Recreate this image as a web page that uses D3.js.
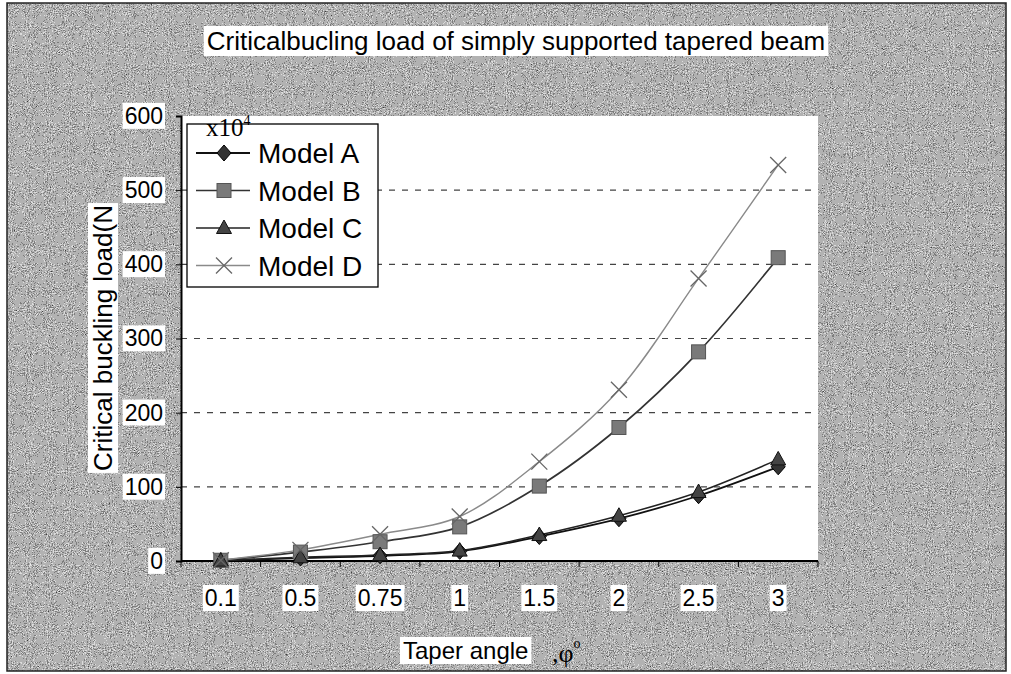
<!DOCTYPE html>
<html>
<head>
<meta charset="utf-8">
<script src="https://cdn.jsdelivr.net/npm/d3@7"></script>
<style>
  body { margin: 0; background: #fff; }
  svg { display: block; }
</style>
</head>
<body>
<div id="chart"></div>
<script>
// taper angle categories and critical buckling load (x10^4 N)
const angles = ["0.1", "0.5", "0.75", "1", "1.5", "2", "2.5", "3"];
const modelA = [0.5, 4, 7, 13, 33, 57, 88, 127];
const modelB = [1, 12, 26, 46, 101, 180, 282, 409];
const modelC = [0.5, 5, 8, 14, 35, 61, 93, 137];
const modelD = [1, 15, 36, 60, 134, 231, 381, 534];
const yTicks = [0, 100, 200, 300, 400, 500, 600];

const W = 1011, H = 674;
const margin = { top: 116, right: 193, bottom: 113, left: 181 };
const width = W - margin.left - margin.right,
    height = H - margin.top - margin.bottom;

const sans = "Arial, 'Liberation Sans', sans-serif";
const serif = "'Liberation Serif', 'Times New Roman', serif";

const svg = d3.select("#chart").append("svg")
    .attr("width", W)
    .attr("height", H);

// noisy scanned-paper background
const defs = svg.append("defs");
const f = defs.append("filter").attr("id", "grain")
    .attr("x", 0).attr("y", 0).attr("width", "100%").attr("height", "100%");
f.append("feTurbulence").attr("type", "fractalNoise")
    .attr("baseFrequency", "0.95").attr("numOctaves", 2).attr("seed", 3);
f.append("feColorMatrix").attr("type", "matrix")
    .attr("values", "0.33 0.33 0.33 0 0  0.33 0.33 0.33 0 0  0.33 0.33 0.33 0 0  0 0 0 0 1");
const ct = f.append("feComponentTransfer");
["feFuncR", "feFuncG", "feFuncB"].forEach(fn =>
    ct.append(fn).attr("type", "discrete").attr("tableValues", "0 0.05 0.2 0.45 0.72 0.9 1"));

svg.append("rect").attr("width", W).attr("height", H).attr("fill", "#fff");
svg.append("rect")
    .attr("x", 7).attr("y", 3).attr("width", W - 12).attr("height", H - 6)
    .attr("filter", "url(#grain)");
svg.append("rect")
    .attr("x", 7).attr("y", 3).attr("width", W - 12).attr("height", H - 6)
    .attr("fill", "none").attr("stroke", "#222").attr("stroke-width", 1.5);

const g = svg.append("g")
    .attr("transform", "translate(" + margin.left + "," + margin.top + ")");

const x = d3.scaleBand().domain(angles).range([0, width]);
const y = d3.scaleLinear().domain([0, 600]).range([height, 0]);

// white plot area
g.append("rect").attr("width", width).attr("height", height).attr("fill", "#fff");

// dashed gridlines
g.selectAll(".grid").data(yTicks.filter(d => d > 0 && d < 600)).join("line")
    .attr("x1", 0).attr("x2", width)
    .attr("y1", d => y(d)).attr("y2", d => y(d))
    .attr("stroke", "#444").attr("stroke-width", 1.2)
    .attr("stroke-dasharray", "6,7");

// helper: white box behind a text node
function boxed(sel, pad) {
    sel.each(function () {
        const b = this.getBBox();
        d3.select(this.parentNode).insert("rect", () => this)
            .attr("x", b.x - pad).attr("y", b.y)
            .attr("width", b.width + pad * 2).attr("height", b.height)
            .attr("fill", "#fff");
    });
}

// y axis
const yAxis = d3.axisLeft(y).tickValues(yTicks).tickSize(5).tickPadding(13);
const ya = g.append("g").attr("class", "y-axis").call(yAxis);
ya.select(".domain").attr("stroke", "#000").attr("stroke-width", 2);
ya.selectAll(".tick line").attr("stroke", "#000");
ya.selectAll(".tick text")
    .style("font-family", sans)
    .style("font-size", "23px").attr("fill", "#000");
boxed(ya.selectAll(".tick text"), 2);

// x axis
const xa = g.append("g").attr("class", "x-axis")
    .attr("transform", "translate(0," + height + ")");
xa.append("line").attr("x1", 0).attr("x2", width)
    .attr("stroke", "#000").attr("stroke-width", 2);
xa.selectAll(".xt").data(angles.concat(["end"])).join("line")
    .attr("x1", (d, i) => i < angles.length ? x(d) : width)
    .attr("x2", (d, i) => i < angles.length ? x(d) : width)
    .attr("y1", 0).attr("y2", 6).attr("stroke", "#000");
const xl = xa.selectAll(".xl").data(angles).join("text")
    .attr("x", d => x(d) + x.bandwidth() / 2)
    .attr("y", 45)
    .attr("text-anchor", "middle")
    .style("font-family", sans)
    .style("font-size", "23px")
    .text(d => d);
boxed(xl, 2);

// lines and markers
const series = [
    { name: "Model A", values: modelA, stroke: "#111", fill: "#333", shape: "diamond", w: 1.8 },
    { name: "Model B", values: modelB, stroke: "#333", fill: "#7a7a7a", shape: "square", w: 1.7 },
    { name: "Model C", values: modelC, stroke: "#222", fill: "#444", shape: "triangle", w: 1.5 },
    { name: "Model D", values: modelD, stroke: "#8a8a8a", fill: "#666", shape: "cross", w: 1.4 }
];

const line = d3.line()
    .x((d, i) => x(angles[i]) + x.bandwidth() / 2)
    .y(d => y(d))
    .curve(d3.curveCatmullRom.alpha(0.5));

function marker(sel, s) {
    if (s.shape === "diamond") {
        sel.append("path").attr("d", "M0,-8L7,0L0,8L-7,0Z").attr("fill", s.fill).attr("stroke", "#000");
    } else if (s.shape === "square") {
        sel.append("rect").attr("x", -7).attr("y", -7).attr("width", 14).attr("height", 14)
            .attr("fill", s.fill).attr("stroke", "#555");
    } else if (s.shape === "triangle") {
        sel.append("path").attr("d", "M0,-8L7.5,5.5L-7.5,5.5Z").attr("fill", s.fill).attr("stroke", "#111");
    } else {
        sel.append("path").attr("d", "M-8,-8L8,8M8,-8L-8,8").attr("stroke", s.fill)
            .attr("stroke-width", 1.3).attr("fill", "none");
    }
}

series.forEach(s => {
    g.append("path").datum(s.values)
        .attr("fill", "none").attr("stroke", s.stroke).attr("stroke-width", s.w)
        .attr("d", line);
});
series.forEach(s => {
    s.values.forEach((v, i) => {
        const m = g.append("g")
            .attr("transform", "translate(" + (x(angles[i]) + x.bandwidth() / 2) + "," + y(v) + ")");
        marker(m, s);
    });
});

// legend
const lg = g.append("g").attr("transform", "translate(6,8)");
lg.append("rect").attr("width", 191).attr("height", 163)
    .attr("fill", "#fff").attr("stroke", "#000").attr("stroke-width", 1.3);
series.forEach((s, i) => {
    const row = lg.append("g").attr("transform", "translate(0," + (29 + i * 37.5) + ")");
    row.append("line").attr("x1", 9).attr("x2", 63)
        .attr("stroke", s.stroke).attr("stroke-width", s.w);
    const m = row.append("g").attr("transform", "translate(37,0)");
    marker(m, s);
    row.append("text").attr("x", 71).attr("y", 10)
        .style("font-family", sans)
        .style("font-size", "28px")
        .text(s.name);
});

// x10^4 multiplier
const mult = svg.append("text").attr("x", 206).attr("y", 136)
    .style("font-family", serif)
    .style("font-size", "25px");
mult.append("tspan").text("x10");
mult.append("tspan").attr("dy", -11).style("font-size", "14px").text("4");

// title
const title = svg.append("text").attr("x", 516).attr("y", 50)
    .attr("text-anchor", "middle")
    .style("font-family", sans)
    .style("font-size", "26px")
    .text("Criticalbucling load of simply supported tapered beam");
boxed(title, 3);

// y axis title
const ytg = svg.append("g").attr("transform", "translate(103,338) rotate(-90)");
const yt = ytg.append("text").attr("text-anchor", "middle").attr("y", 9)
    .style("font-family", sans)
    .style("font-size", "26px")
    .text("Critical buckling load(N");
boxed(yt, 2);

// x axis title
const xt = svg.append("text").attr("x", 403).attr("y", 659)
    .style("font-family", sans)
    .style("font-size", "24px")
    .text("Taper angle");
boxed(xt, 3);
const phi = svg.append("text").attr("x", 552).attr("y", 662)
    .style("font-family", serif)
    .style("font-size", "26px");
phi.append("tspan").text(",\u03c6");
phi.append("tspan").attr("dy", -14).style("font-size", "14px").text("o");
</script>
</body>
</html>
